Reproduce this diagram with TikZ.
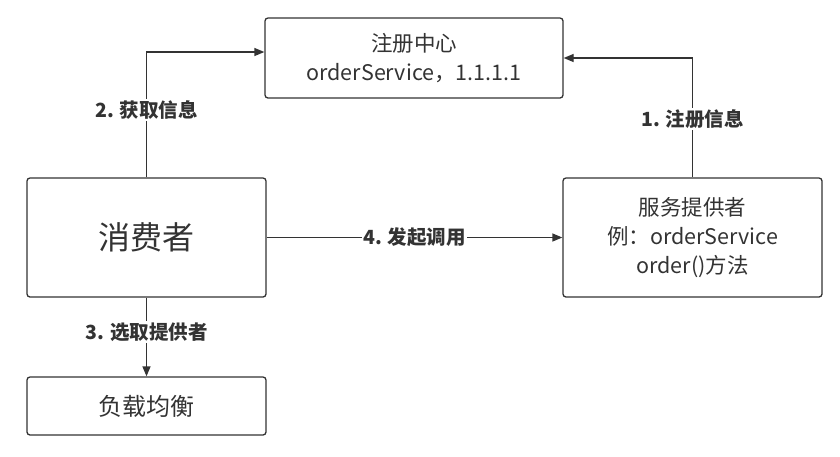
\documentclass[tikz,border=0pt]{standalone}
\usepackage{fontspec}
\setmainfont{Noto Sans CJK SC}
\usetikzlibrary{arrows.meta}
\definecolor{ink}{HTML}{333333}
\begin{document}
\begin{tikzpicture}[x=1pt,y=-1pt,
  box/.style={draw=ink, line width=1.3pt, rounded corners=3pt, text=ink, align=center, inner sep=0pt, font=\fontsize{21.5}{29}\selectfont},
  conn/.style={draw=ink, line width=1.3pt, -{Triangle[length=10pt,width=8pt]}},
  lbl/.style={fill=white, text=ink, font=\fontsize{19.5}{22}\selectfont\bfseries, inner sep=1.5pt}]
\useasboundingbox (0,0) rectangle (840,456);
\node[box, minimum width=298pt, minimum height=80pt] (reg) at (414,58) {注册中心\\orderService，1.1.1.1};
\node[box, minimum width=239pt, minimum height=119pt, font=\fontsize{32}{36}\selectfont] (cons) at (146.5,237.5) {消费者};
\node[box, minimum width=259pt, minimum height=119pt] (prov) at (692.5,237.5) {服务提供者\\例：orderService\\order()方法};
\node[box, minimum width=239pt, minimum height=58pt, font=\fontsize{24}{28}\selectfont] (lb) at (146.5,406) {负载均衡};
\draw[conn] (cons.north) |- ([yshift=6pt]reg.west) node[lbl, pos=0.27] (l2) {2. 获取信息};
\draw[conn] (prov.north) |- (reg.east) node[lbl, pos=0.245] (l1) {1. 注册信息};
\draw[conn] (cons.east) -- (prov.west) node[lbl, midway] (l4) {4. 发起调用};
\draw[conn] (cons.south) -- (lb.north) node[lbl, pos=0.44] (l3) {3. 选取提供者};
\end{tikzpicture}
\end{document}
